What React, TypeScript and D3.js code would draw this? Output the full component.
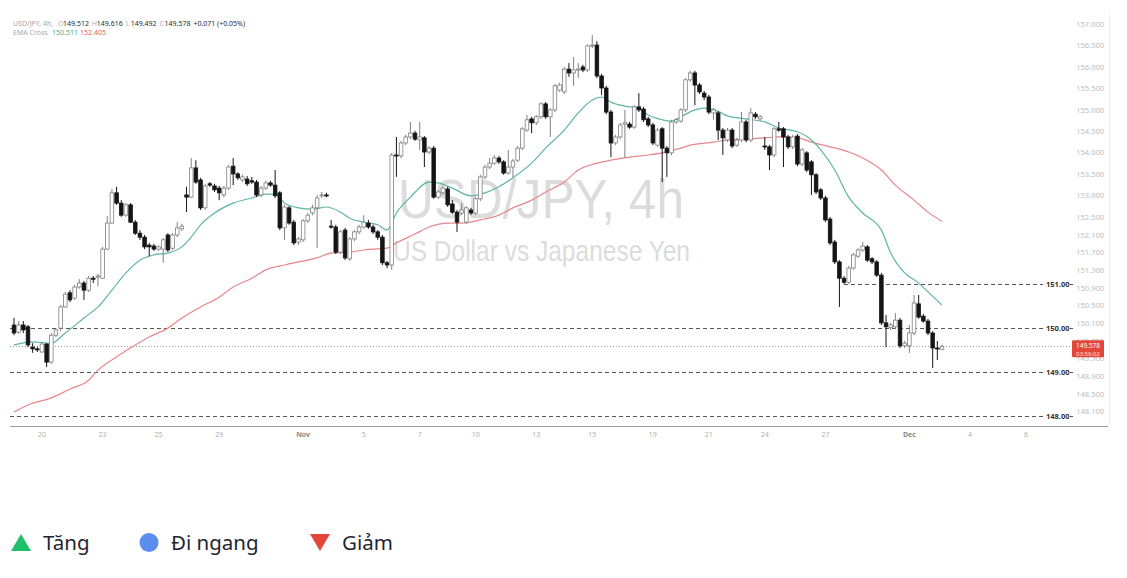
import React from "react";
import * as d3 from "d3";

// ---- Candle data (USD/JPY 4h) ----
const opens = [
  150.06,149.90,150.06,150.02,149.56,149.52,149.45,149.63,149.22,149.83,
  149.99,150.47,150.79,150.67,150.92,151.01,150.85,151.12,151.15,151.12,
  151.78,152.37,153.07,152.83,152.55,152.79,152.39,152.14,152.05,151.87,
  151.85,151.78,151.78,152.10,151.80,152.10,152.24,153.02,152.97,153.65,
  153.37,152.72,153.28,153.23,153.18,153.02,153.18,153.69,153.51,153.37,
  153.39,153.35,153.32,153.02,153.18,153.30,153.25,153.07,152.26,152.72,
  152.39,151.94,151.99,152.42,152.60,152.72,153.00,153.02,152.30,152.28,
  151.71,152.21,151.56,152.01,152.17,152.28,152.37,152.28,152.17,152.05,
  151.47,151.42,153.95,153.93,154.23,154.37,154.46,154.30,154.35,154.02,
  154.11,152.97,153.07,153.16,152.81,152.62,152.60,152.39,152.67,152.60,
  152.93,153.44,153.67,153.76,153.88,153.79,153.53,153.67,153.83,154.11,
  154.53,154.79,154.70,154.84,155.14,154.84,155.00,155.46,155.42,155.95,
  155.86,155.93,156.00,155.93,156.49,156.51,155.79,155.51,154.95,154.23,
  154.37,154.67,154.67,154.60,155.07,155.02,154.79,154.65,154.18,154.56,
  154.11,154.00,154.72,154.74,155.00,155.70,155.86,155.58,155.39,155.30,
  154.93,154.93,154.53,154.30,154.53,154.18,154.30,154.72,154.30,154.90,
  154.79,154.16,154.14,153.95,154.56,154.56,154.37,154.14,154.39,153.74,
  154.00,153.79,153.49,153.14,152.95,152.46,151.94,151.49,151.12,151.03,
  151.35,151.62,151.76,151.83,151.56,151.49,151.19,150.11,150.00,150.02,
  150.17,149.59,149.59,149.88,150.54,150.26,150.15,149.88,149.54,149.512,
];
const highs = [
  150.22,150.15,150.15,150.06,149.65,149.56,149.68,149.65,149.88,149.99,
  150.51,150.81,150.85,150.97,151.10,151.06,151.17,151.17,151.22,151.83,
  152.53,153.16,153.21,152.90,152.83,152.83,152.44,152.21,152.10,151.92,
  151.90,151.87,152.03,152.14,152.14,152.39,152.35,153.21,153.88,153.83,
  153.42,153.28,153.32,153.28,153.23,153.23,153.72,153.88,153.55,153.49,
  153.46,153.44,153.37,153.23,153.35,153.35,153.60,153.11,152.79,152.76,
  152.44,152.05,152.46,152.60,152.79,153.02,153.09,153.07,152.44,152.33,
  152.21,152.26,152.05,152.21,152.33,152.55,152.44,152.33,152.21,152.10,
  151.51,154.00,154.37,154.28,154.42,154.72,154.51,154.72,154.39,154.16,
  154.16,153.14,153.23,153.21,152.90,152.67,152.83,152.76,152.72,152.97,
  153.49,153.72,153.88,153.95,153.93,153.83,154.07,153.86,154.16,154.60,
  154.88,154.84,154.88,155.18,155.18,155.04,155.60,155.63,156.00,156.09,
  156.23,156.09,156.05,156.53,156.74,156.60,155.84,155.56,155.00,154.42,
  154.70,155.00,154.72,155.11,155.39,155.07,154.84,154.70,154.58,154.60,
  154.16,154.77,154.81,155.04,155.74,155.91,155.91,155.63,155.44,155.35,
  155.04,154.97,154.58,154.58,154.58,154.35,154.95,154.77,155.04,154.95,
  154.88,154.37,154.18,154.60,154.72,154.60,154.42,154.42,154.44,154.11,
  154.04,153.83,153.53,153.18,153.00,152.51,151.99,151.53,151.17,151.40,
  151.69,151.80,151.94,151.87,151.60,151.53,151.24,150.29,150.11,150.33,
  150.22,149.70,150.06,150.74,150.74,150.31,150.20,149.92,149.70,149.616,
];
const lows = [
  149.83,149.86,149.88,149.56,149.43,149.45,149.43,149.11,149.18,149.79,
  149.92,150.45,150.58,150.63,150.88,150.63,150.81,151.01,150.94,151.10,
  151.76,152.35,152.79,152.51,152.51,152.37,152.10,151.99,151.78,151.62,
  151.74,151.74,151.47,151.71,151.76,152.05,152.19,152.62,152.95,153.28,
  152.67,152.67,153.21,153.09,152.90,152.97,153.14,153.25,153.37,153.32,
  153.23,153.28,152.97,152.97,153.14,153.21,152.95,152.21,151.99,152.33,
  151.87,151.87,151.94,152.37,152.55,151.80,152.95,152.97,152.24,151.67,
  151.67,151.53,151.51,151.96,152.12,152.24,152.24,152.12,151.99,151.42,
  151.35,151.31,153.44,153.88,154.18,154.32,154.28,154.07,153.67,153.97,
  152.93,152.93,153.02,152.74,152.58,152.17,152.55,152.35,152.55,152.55,
  152.88,153.39,153.62,153.72,153.74,153.49,153.49,153.44,153.79,154.07,
  154.49,154.46,154.65,154.79,154.79,154.37,154.95,155.42,155.37,155.77,
  155.56,155.74,155.88,155.88,156.44,155.74,155.35,154.90,153.90,154.18,
  154.32,153.88,154.56,154.56,154.95,154.72,154.60,154.18,154.14,153.32,
  153.44,153.95,154.67,154.70,154.95,155.65,155.11,155.37,155.23,154.90,
  154.77,154.30,153.95,154.25,154.11,154.14,154.25,154.25,154.25,154.79,
  154.74,154.07,153.60,153.90,154.49,153.67,154.09,154.09,153.69,153.69,
  153.55,153.02,153.04,152.90,152.39,151.87,151.44,150.47,150.99,150.99,
  151.31,151.58,151.71,151.49,151.44,151.15,150.06,149.56,149.95,149.97,
  149.54,149.54,149.43,149.83,150.20,150.11,149.83,149.09,149.27,149.492,
];
const closes = [
  149.88,150.06,149.95,149.61,149.52,149.50,149.63,149.22,149.83,149.95,
  150.47,150.76,150.63,150.92,151.01,150.85,151.12,151.10,151.17,151.78,
  152.37,153.07,152.83,152.55,152.79,152.39,152.14,152.05,151.83,151.83,
  151.78,151.83,151.99,151.76,152.10,152.26,152.30,152.97,153.65,153.32,
  152.72,153.23,153.25,153.14,153.07,153.18,153.67,153.51,153.42,153.44,
  153.28,153.32,153.02,153.18,153.30,153.25,153.00,152.26,152.74,152.37,
  151.92,152.01,152.42,152.55,152.72,152.95,153.02,153.00,152.28,151.71,
  152.17,151.58,152.01,152.17,152.28,152.39,152.28,152.17,152.05,151.47,
  151.42,153.95,153.93,154.23,154.37,154.46,154.32,154.37,154.02,154.11,
  152.97,153.09,153.18,152.79,152.62,152.39,152.67,152.72,152.60,152.93,
  153.44,153.67,153.76,153.88,153.79,153.53,153.67,153.81,154.11,154.56,
  154.77,154.70,154.84,155.14,154.84,155.00,155.56,155.58,155.95,155.86,
  155.93,155.95,155.93,156.49,156.51,155.79,155.51,154.95,154.23,154.37,
  154.65,154.70,154.60,155.07,155.00,154.77,154.65,154.23,154.53,154.11,
  154.00,154.72,154.77,155.00,155.70,155.86,155.58,155.42,155.30,154.95,
  155.00,154.53,154.35,154.53,154.16,154.30,154.72,154.30,154.93,154.84,
  154.84,154.14,153.95,154.56,154.53,154.37,154.14,154.37,153.74,154.07,
  153.60,153.49,153.09,152.95,152.44,151.92,151.49,151.12,151.03,151.35,
  151.65,151.76,151.85,151.53,151.49,151.19,150.11,150.02,150.06,150.17,
  149.59,149.65,149.88,150.56,150.24,150.15,149.88,149.54,149.52,149.578,
];

// ---- EMA lines (bar index, value) ----
const emaFastIdx = [0,4,8,11,15,18,21,24,27,30,33,36,38,40,43,47,51,54,56,58,61,64,67,70,72,75,78,80,82,85,89,91,94,98,101,104,107,111,114,118,121,124,126,128,131,134,136,139,141,143,146,148,151,153,157,161,164,168,171,173,176,179,182,186,188,191,194,196,199];
const emaFastVal = [149.61,149.68,149.65,149.88,150.22,150.47,150.85,151.24,151.53,151.65,151.69,151.83,152.05,152.33,152.60,152.83,152.95,153.04,153.04,152.83,152.72,152.69,152.74,152.62,152.48,152.39,152.33,152.21,152.60,152.97,153.32,153.30,153.18,153.00,153.07,153.21,153.42,153.76,154.11,154.53,154.93,155.23,155.30,155.18,155.09,155.04,154.88,154.77,154.74,154.84,155.00,155.04,154.97,154.86,154.79,154.72,154.58,154.49,154.30,154.07,153.60,152.97,152.60,152.21,151.69,151.24,151.01,150.81,150.511];
const emaSlowIdx = [0,3,8,12,16,18,22,26,29,33,36,40,44,47,51,54,58,61,65,68,72,75,80,82,86,89,93,96,100,104,107,111,114,118,121,125,128,132,136,139,143,145,150,153,157,161,164,168,171,175,179,182,186,189,193,196,199];
const emaSlowVal = [148.09,148.25,148.41,148.61,148.81,149.04,149.34,149.61,149.79,149.99,150.22,150.47,150.69,150.92,151.12,151.31,151.42,151.49,151.58,151.69,151.71,151.76,151.80,151.92,152.12,152.28,152.37,152.37,152.44,152.55,152.72,152.90,153.09,153.32,153.60,153.76,153.83,153.90,153.95,154.00,154.11,154.18,154.25,154.30,154.32,154.35,154.37,154.35,154.25,154.14,154.02,153.88,153.60,153.25,152.90,152.62,152.405];

// ---- Axis labels ----
const xTickLabels = ["20","23","25","29","Nov","5","7","10","13","15","19","21","24","27","Dec","4","6"];
const xTickIdx = [6,19,31,44,62,75,87,99,112,124,137,149,161,174,192,205,217];
const yTickValues = [157,156.5,156,155.5,155,154.5,154,153.5,153,152.5,152.1,151.7,151.3,150.9,150.5,150.1,149.7,149.3,148.9,148.5,148.1];
const levelValues = [151, 150, 149, 148];
const levelFromIdx = [178, -1, -1, -1];
const lastPrice = 149.578;
const lastCountdown = "03:59:02";

const headerStats = [
  { k: "O", v: "149.512" },
  { k: "H", v: "149.616" },
  { k: "L", v: "149.492" },
  { k: "C", v: "149.578" },
];
const changeText = "+0.071 (+0.05%)";
const emaHeader = ["150.511", "152.405"];

const legendItems = [
  { label: "Tăng", shape: "up", color: "#1dbf6a" },
  { label: "Đi ngang", shape: "circle", color: "#5b8def" },
  { label: "Giảm", shape: "down", color: "#e2463a" },
];

const FONT = "'Noto Sans', 'DejaVu Sans', sans-serif";

export default function App() {
  const W = 1127, H = 578;
  const plotL = 10, plotR = 1108, axisY = 426;
  const x = d3.scaleLinear().domain([0, 199]).range([14, 942]);
  const y = d3.scaleLinear().domain([157, 152.5, 148]).range([24, 217.3, 416]);
  const bw = 3.6;

  const lineGen = d3
    .line<[number, number]>()
    .x((d) => x(d[0]))
    .y((d) => y(d[1]))
    .curve(d3.curveMonotoneX);
  const fastPath = lineGen(emaFastIdx.map((i, k) => [i, emaFastVal[k]] as [number, number])) || "";
  const slowPath = lineGen(emaSlowIdx.map((i, k) => [i, emaSlowVal[k]] as [number, number])) || "";

  const legendX = [21, 149, 320];
  const legendTextX = [43, 171, 342];

  let hx = 13;
  const headerParts: { t: string; c: string; w: number }[] = [];
  const charW = 3.55;
  headerParts.push({ t: "USD/JPY, 4h,", c: "#a8a8a8", w: 45 });
  headerStats.forEach((s) => {
    headerParts.push({ t: s.k, c: "#b0b0b0", w: 5 });
    headerParts.push({ t: s.v, c: "#2a2a2a", w: s.v.length * charW + 4 });
  });
  headerParts.push({ t: changeText, c: "#2a2a2a", w: 60 });

  const yCur = y(lastPrice);

  return (
    <svg
      width={W}
      height={H}
      style={{ position: "absolute", left: 0, top: 0, background: "#fff" }}
      fontFamily={FONT}
    >
      <rect x={0} y={0} width={W} height={H} fill="#fff" />

      {/* watermark */}
      <text x={398} y={218} fontSize={56} fill="#dcdcdc" textLength={286} lengthAdjust="spacingAndGlyphs" fontFamily="'Liberation Sans', Arial, sans-serif">
        USD/JPY, 4h
      </text>
      <text x={393} y={261} fontSize={29} fill="#dcdcdc" textLength={297} lengthAdjust="spacingAndGlyphs" fontFamily="'Liberation Sans', Arial, sans-serif">
        US Dollar vs Japanese Yen
      </text>

      {/* right panel border */}
      <line x1={1109.5} x2={1109.5} y1={12} y2={axisY} stroke="#efefef" />

      {/* level lines */}
      {levelValues.map((v, k) => {
        const yy = Math.round(y(v)) + 0.5;
        const x1 = levelFromIdx[k] < 0 ? plotL : x(levelFromIdx[k]);
        return (
          <g key={"lv" + k}>
            <line x1={x1} x2={1043} y1={yy} y2={yy} stroke="#555" strokeWidth={1} strokeDasharray="4 3" />
            <text x={1046} y={yy + 2.7} fontSize={7.5} fontWeight={700} fill="#333">
              {v.toFixed(2)}
            </text>
            <line x1={1070} x2={1073} y1={yy} y2={yy} stroke="#555" />
          </g>
        );
      })}

      {/* current price dotted line */}
      <line x1={plotL} x2={1072} y1={Math.round(yCur) + 0.5} y2={Math.round(yCur) + 0.5} stroke="#9a9a9a" strokeDasharray="1 2" />

      {/* EMA lines */}
      <path d={slowPath} fill="none" stroke="#e8868c" strokeWidth={1.2} />
      <path d={fastPath} fill="none" stroke="#5fb5a2" strokeWidth={1.2} />

      {/* candles */}
      {opens.map((o, i) => {
        const c = closes[i];
        const up = c >= o;
        const cx = x(i);
        const top = y(Math.max(o, c));
        const bot = y(Math.min(o, c));
        const h = Math.max(1, bot - top);
        const col = up ? "#808080" : "#151515";
        return (
          <g key={"c" + i}>
            <line x1={cx} x2={cx} y1={y(highs[i])} y2={y(lows[i])} stroke={col} strokeWidth={1} />
            <rect
              x={cx - bw / 2}
              y={top}
              width={bw}
              height={h}
              fill={up ? "#ffffff" : "#151515"}
              stroke={col}
              strokeWidth={0.8}
            />
          </g>
        );
      })}

      {/* right axis tick labels */}
      {yTickValues.map((v, k) => (
        <text key={"yt" + k} x={1104} y={y(v) + 2.6} fontSize={7.5} fill="#bdbdbd" textAnchor="end">
          {v.toFixed(3)}
        </text>
      ))}

      {/* last price badge */}
      <rect x={1072} y={yCur - 6} width={32} height={17} fill="#e2463a" rx={1} />
      <text x={1088} y={yCur + 1.6} fontSize={6.5} fill="#fff" textAnchor="middle">
        {lastPrice.toFixed(3)}
      </text>
      <text x={1088} y={yCur + 9.4} fontSize={6} fill="#fde0dc" textAnchor="middle">
        {lastCountdown}
      </text>

      {/* bottom axis */}
      <line x1={plotL} x2={plotR} y1={axisY + 0.5} y2={axisY + 0.5} stroke="#9c9ca8" strokeWidth={1} />
      {xTickLabels.map((t, k) => {
        const major = t === "Nov" || t === "Dec";
        return (
          <text
            key={"xt" + k}
            x={x(xTickIdx[k])}
            y={437}
            fontSize={7}
            fill={major ? "#888" : "#b0b0b0"}
            fontWeight={major ? 700 : 400}
            textAnchor="middle"
          >
            {t}
          </text>
        );
      })}

      {/* header */}
      <text y={25.5} fontSize={7} fill="#333">
        {headerParts.map((p, k) => {
          const xx = hx;
          hx += p.w;
          return (
            <tspan key={"h" + k} x={xx} fill={p.c}>
              {p.t}
            </tspan>
          );
        })}
      </text>
      <text y={35} fontSize={7}>
        <tspan x={13} fill="#a8a8a8">EMA Cross</tspan>
        <tspan x={52} fill="#4fa895">{emaHeader[0]}</tspan>
        <tspan x={80} fill="#d9656b">{emaHeader[1]}</tspan>
      </text>

      {/* legend */}
      {legendItems.map((it, k) => {
        const cx = legendX[k];
        const cy = 542.5;
        let shape;
        if (it.shape === "up") {
          shape = <polygon points={`${cx - 10},${cy + 8.5} ${cx + 10},${cy + 8.5} ${cx},${cy - 8.5}`} fill={it.color} />;
        } else if (it.shape === "down") {
          shape = <polygon points={`${cx - 10},${cy - 8.5} ${cx + 10},${cy - 8.5} ${cx},${cy + 8.5}`} fill={it.color} />;
        } else {
          shape = <circle cx={cx} cy={cy} r={9.5} fill={it.color} />;
        }
        return (
          <g key={"lg" + k}>
            {shape}
            <text x={legendTextX[k]} y={550} fontSize={20.5} fill="#1f2530">
              {it.label}
            </text>
          </g>
        );
      })}
    </svg>
  );
}
